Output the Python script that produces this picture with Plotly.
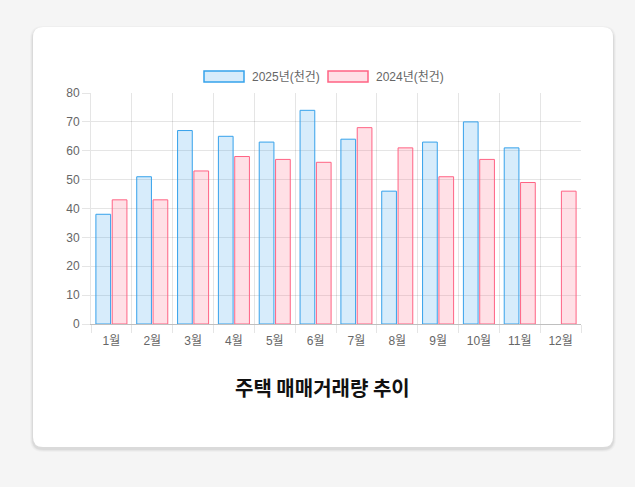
import plotly.graph_objects as go

# 월별 주택 매매거래량 (천건)
months = ["1월", "2월", "3월", "4월", "5월", "6월", "7월", "8월", "9월", "10월", "11월", "12월"]
sales_2025 = [38, 51, 67, 65, 63, 74, 64, 46, 63, 70, 61, None]
sales_2024 = [43, 43, 53, 58, 57, 56, 68, 61, 51, 57, 49, 46]
series_names = ["2025년(천건)", "2024년(천건)"]

W, H = 635, 487
L, R, T, B = 91, 54, 93, 163
pw, ph = W - L - R, H - T - B

blue_fill, blue_line = "rgba(54,162,235,0.2)", "rgb(54,162,235)"
pink_fill, pink_line = "rgba(255,99,132,0.2)", "rgb(255,99,132)"


def px_x(v):
    return (v - L) / pw


def px_y(v):
    return (H - B - v) / ph


def rounded(x0, y0, x1, y1, r):
    # 픽셀 좌표 -> paper 좌표의 둥근 사각형 path
    a, b, c, d = px_x(x0), px_y(y0), px_x(x1), px_y(y1)
    rx, ry = r / pw, r / ph
    return (f"M{a + rx},{b} L{c - rx},{b} Q{c},{b} {c},{b - ry} "
            f"L{c},{d + ry} Q{c},{d} {c - rx},{d} L{a + rx},{d} "
            f"Q{a},{d} {a},{d + ry} L{a},{b - ry} Q{a},{b} {a + rx},{b} Z")


font = "Liberation Sans, Noto Sans CJK KR, sans-serif"

fig = go.Figure()
fig.add_trace(go.Bar(
    x=months, y=sales_2025, name=series_names[0],
    marker=dict(color=blue_fill, line=dict(color=blue_line, width=1)),
))
fig.add_trace(go.Bar(
    x=months, y=sales_2024, name=series_names[1],
    marker=dict(color=pink_fill, line=dict(color=pink_line, width=1)),
))

# 카드 배경 + 그림자
shapes = []
for i, op in enumerate([0.025, 0.035, 0.05]):
    s = 3 - i
    shapes.append(dict(type="path", xref="paper", yref="paper", layer="below",
                       path=rounded(33 - s, 27 - s + 2, 613 + s, 447 + s + 2, 10 + s),
                       fillcolor=f"rgba(0,0,0,{op})", line=dict(width=0)))
shapes.append(dict(type="path", xref="paper", yref="paper", layer="below",
                   path=rounded(33, 27, 613, 447, 10),
                   fillcolor="white", line=dict(width=0)))

# 범례 (Chart.js 스타일 넓은 상자)
annotations = []
legend_items = [(204, 244, 250, series_names[0], blue_fill, blue_line),
                (328, 368, 374, series_names[1], pink_fill, pink_line)]
for x0, x1, tx, name, fc, lc in legend_items:
    shapes.append(dict(type="rect", xref="paper", yref="paper",
                       x0=px_x(x0), x1=px_x(x1), y0=px_y(71), y1=px_y(82),
                       fillcolor=fc, line=dict(color=lc, width=1.5)))
    annotations.append(dict(text=name, xref="paper", yref="paper", x=px_x(tx), y=px_y(76.5),
                            xanchor="left", yanchor="middle", showarrow=False,
                            font=dict(size=12, color="#666")))

annotations.append(dict(text="<b>주택 매매거래량 추이</b>", xref="paper", yref="paper",
                        x=px_x(322), y=px_y(387), xanchor="center", yanchor="middle",
                        showarrow=False,
                        font=dict(family="Noto Sans CJK KR", size=20, color="#111")))

fig.update_layout(
    width=W, height=H,
    margin=dict(l=L, r=R, t=T, b=B),
    paper_bgcolor="#f5f5f5",
    plot_bgcolor="white",
    barmode="group",
    bargap=0.2,
    bargroupgap=0.1,
    showlegend=False,
    font=dict(family=font, size=12, color="#666"),
    shapes=shapes,
    annotations=annotations,
)

fig.update_xaxes(
    tickson="boundaries", ticks="outside", ticklen=8, tickcolor="rgba(0,0,0,0.1)",
    ticklabelstandoff=6,
    showgrid=True, gridcolor="rgba(0,0,0,0.1)", gridwidth=1,
    showline=True, linecolor="rgba(0,0,0,0.25)", linewidth=1,
    tickfont=dict(size=12, color="#666"),
)
fig.update_yaxes(
    range=[0, 80], dtick=10, ticks="outside", ticklen=8, tickcolor="rgba(0,0,0,0.1)",
    showgrid=True, gridcolor="rgba(0,0,0,0.1)", gridwidth=1, zeroline=False,
    showline=True, linecolor="rgba(0,0,0,0.1)", linewidth=1,
    tickfont=dict(size=12, color="#666"),
)

fig.write_html("out.html",
               config={"displayModeBar": False},
               post_script="document.body.style.margin='0';"
                           "document.body.style.background='#f5f5f5';")
